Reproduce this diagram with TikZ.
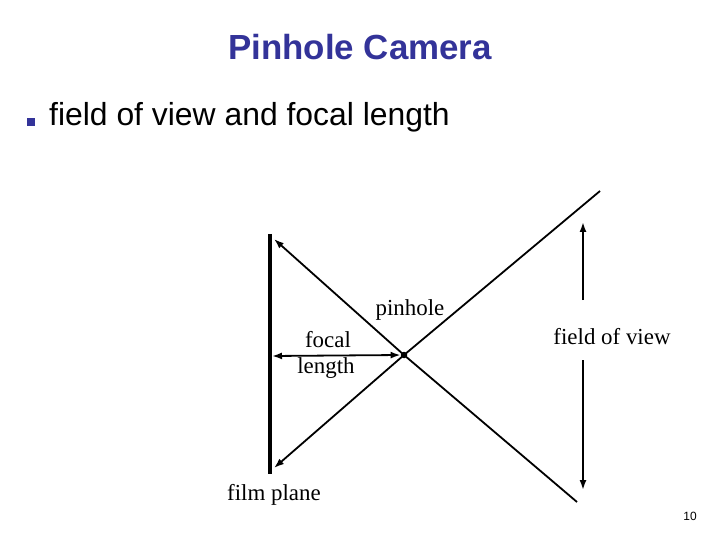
\documentclass[tikz,border=0pt]{standalone}
\usepackage{fontspec}
\setmainfont{Liberation Serif}
\setsansfont{Liberation Sans}
\usetikzlibrary{arrows.meta,positioning}
\definecolor{titleblue}{RGB}{51,51,153}

\begin{document}
\begin{tikzpicture}[x=1bp,y=-1bp,
  ray/.style={line width=1.8bp},
  tip/.style={-{Latex[length=10bp,width=7bp]}},
  dbltip/.style={{Latex[length=10bp,width=7bp]}-{Latex[length=10bp,width=7bp]}},
  lbl/.style={font=\fontsize{23}{26}\selectfont, anchor=base, inner sep=0pt}]
\useasboundingbox (0,0) rectangle (720,540);
% title and bullet line
\node[anchor=base, inner sep=0pt, text=titleblue,
  font=\sffamily\bfseries\fontsize{35}{40}\selectfont] (title) at (360,60) {Pinhole Camera};
\node[fill=titleblue, minimum size=8bp, inner sep=0pt] (bullet) at (31,122) {};
\node[anchor=base west, inner sep=0pt,
  font=\sffamily\fontsize{32}{38}\selectfont] (item) at (49,126) {field of view and focal length};
% film plane
\coordinate (filmtop) at (269.5,234);
\coordinate (filmbot) at (269.5,474);
\draw[line width=4bp] (filmtop) -- (filmbot);
% pinhole and rays
\node[circle, fill, inner sep=0pt, minimum size=6.5bp] (pinhole) at (404,355) {};
\coordinate (raytop) at (600,191);
\coordinate (raybot) at (577,502);
\coordinate (hittop) at (274,239);
\coordinate (hitbot) at (274,468);
\draw[ray,tip] (raytop) -- (pinhole.center) -- (hitbot);
\draw[ray,tip] (raybot) -- (pinhole.center) -- (hittop);
% focal length
\coordinate (focl) at (272,356);
\draw[ray,dbltip] (focl) -- (pinhole.west);
\node[lbl] (focal) at (328,347.5) {focal};
\node[lbl] (length) at (326,373.5) {length};
\node[lbl] (pinlbl) at (410,315) {pinhole};
\node[lbl] (film) at (274,500) {film plane};
% field of view
\node[lbl] (fov) at (612,344) {field of view};
\coordinate (fovmidtop) at (583,300);
\coordinate (fovtop) at (583,222);
\coordinate (fovmidbot) at (583,360);
\coordinate (fovbot) at (583,490);
\draw[ray,tip] (fovmidtop) -- (fovtop);
\draw[ray,tip] (fovmidbot) -- (fovbot);
% page number
\node[anchor=base, inner sep=0pt, font=\sffamily\fontsize{12}{14}\selectfont] (pagenum) at (690,520) {10};
\end{tikzpicture}
\end{document}
